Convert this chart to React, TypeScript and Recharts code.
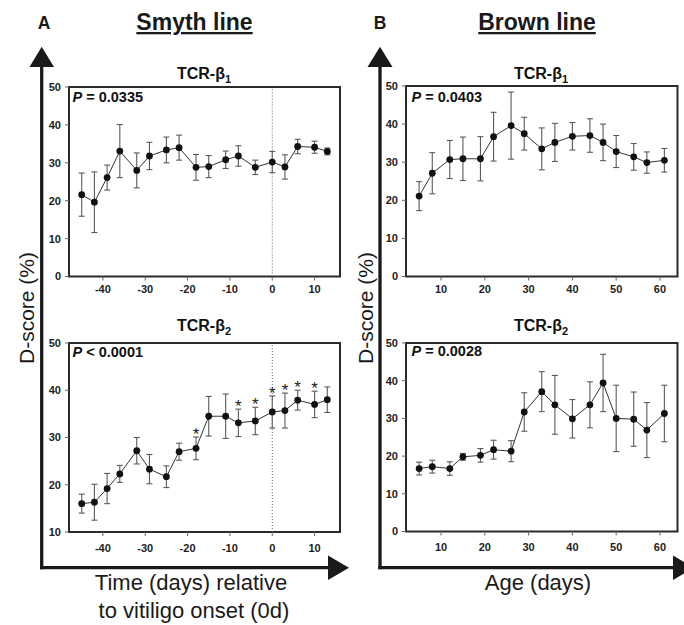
import React from 'react';
import {
  ComposedChart, Line, XAxis, YAxis, ErrorBar, ReferenceArea, ReferenceLine, Scatter,
} from 'recharts';

// ---- Data ----
const smythDays = [-45, -42, -39, -36, -32, -29, -25, -22, -18, -15, -11, -8, -4, 0, 3, 6, 10, 13];
const smythB1 = [21.6, 19.6, 26.1, 33.1, 28.0, 31.8, 33.4, 34.0, 28.8, 29.0, 30.8, 31.8, 28.8, 30.2, 28.9, 34.3, 34.1, 33.0];
const smythB1Err = [5.7, 8.0, 3.3, 7.0, 4.6, 3.6, 3.4, 3.3, 3.4, 2.9, 2.3, 2.7, 1.9, 2.8, 3.2, 1.9, 1.6, 0.9];
const smythB2 = [16.0, 16.3, 19.2, 22.3, 27.2, 23.3, 21.7, 27.0, 27.7, 34.5, 34.5, 33.1, 33.5, 35.4, 35.7, 37.9, 37.0, 38.0];
const smythB2Err = [2.0, 3.8, 3.2, 1.8, 2.8, 3.1, 2.3, 1.8, 2.4, 4.2, 4.7, 2.9, 2.9, 3.4, 3.7, 2.1, 2.8, 2.7];
const smythB2Sig = [false, false, false, false, false, false, false, false, true, false, false, true, true, true, true, true, true, false];

const brownAge = [5, 8, 12, 15, 19, 22, 26, 29, 33, 36, 40, 44, 47, 50, 54, 57, 61];
const brownB1 = [21.1, 27.1, 30.7, 30.9, 30.9, 36.7, 39.6, 37.5, 33.5, 35.2, 36.8, 37.0, 35.2, 32.8, 31.4, 29.9, 30.5];
const brownB1Err = [3.8, 5.4, 5.0, 5.7, 5.8, 6.4, 8.8, 4.3, 5.5, 5.0, 3.6, 4.4, 4.8, 4.2, 3.5, 2.8, 3.1];
const brownB2 = [16.7, 17.2, 16.7, 19.8, 20.2, 21.7, 21.3, 31.7, 37.1, 33.6, 29.9, 33.6, 39.4, 30.0, 29.8, 26.9, 31.3];
const brownB2Err = [1.7, 1.7, 1.8, 0.9, 1.8, 2.5, 2.8, 5.1, 5.3, 7.8, 5.1, 6.1, 7.6, 8.8, 7.2, 7.3, 7.5];

const smythXTicks = [-40, -30, -20, -10, 0, 10];
const brownXTicks = [10, 20, 30, 40, 50, 60];
const yTicks0 = [0, 10, 20, 30, 40, 50];
const yTicks10 = [10, 20, 30, 40, 50];

const FONT = '"Liberation Sans", Arial, Helvetica, sans-serif';

function build(xs: number[], ys: number[], errs: number[]) {
  return xs.map((x, i) => ({ x, y: ys[i], err: errs[i] }));
}
function buildStars(xs: number[], ys: number[], errs: number[], sig: boolean[]) {
  return xs.map((x, i) => ({ x, starY: ys[i] + errs[i] })).filter((_, i) => sig[i]);
}

type PanelProps = {
  l: number; t: number; r: number; b: number;
  data: { x: number; y: number; err: number }[];
  xDomain: [number, number];
  yDomain: [number, number];
  xTicks: number[];
  yTicks: number[];
  xTickMargin: number;
  zeroLine?: boolean;
  stars?: { x: number; starY: number }[];
};

const tickStyle = { fontSize: 11, fontWeight: 700, fill: '#222', fontFamily: FONT };

const StarShape = (p: any) => (
  <text x={p.cx} y={p.cy + 3} textAnchor="middle" fontSize={17} fontFamily={FONT} fill="#222">*</text>
);

function Panel({ l, t, r, b, data, xDomain, yDomain, xTicks, yTicks, xTickMargin, zeroLine, stars }: PanelProps) {
  const mLeft = 10, yW = 60, mTop = 20, xH = 30, mRight = 10;
  const width = (r - l) + mLeft + yW + mRight;
  const height = (b - t) + mTop + xH;
  return (
    <div style={{ position: 'absolute', left: l - mLeft - yW, top: t - mTop, width, height }}>
      <ComposedChart width={width} height={height} data={data}
        margin={{ top: mTop, left: mLeft, right: mRight, bottom: 0 }}>
        <XAxis type="number" dataKey="x" domain={xDomain} ticks={xTicks} interval={0}
          allowDataOverflow height={xH} axisLine={false}
          tickLine={{ stroke: '#666' }} tickSize={4} tickMargin={xTickMargin} tick={tickStyle} />
        <YAxis type="number" domain={yDomain} ticks={yTicks} interval={0}
          allowDataOverflow width={yW} axisLine={false}
          tickLine={{ stroke: '#666' }} tickSize={4} tickMargin={4} tick={tickStyle} />
        {zeroLine && (
          <ReferenceLine x={0} stroke="#666" strokeDasharray="1 2" strokeWidth={1} />
        )}
        <Line dataKey="y" stroke="#333" strokeWidth={1} isAnimationActive={false}
          dot={{ r: 3.4, fill: '#111', stroke: '#111', strokeWidth: 0 }} activeDot={false}>
          <ErrorBar dataKey="err" direction="y" width={3} stroke="#5a5a5a" strokeWidth={1.1} />
        </Line>
        {stars && (
          <Scatter data={stars} dataKey="starY" isAnimationActive={false} shape={StarShape} />
        )}
        <ReferenceArea x1={xDomain[0]} x2={xDomain[1]} y1={yDomain[0]} y2={yDomain[1]}
          fill="none" fillOpacity={0} stroke="#2a2a2a" strokeWidth={2} ifOverflow="visible" />
      </ComposedChart>
    </div>
  );
}

function Title({ x, y, sub }: { x: number; y: number; sub: string }) {
  return (
    <text x={x} y={y} textAnchor="middle" fontSize={16} fontWeight={700} fontFamily={FONT} fill="#111">
      TCR-β<tspan fontSize={11} dy={4}>{sub}</tspan>
    </text>
  );
}

function PText({ x, y, op, val }: { x: number; y: number; op: string; val: string }) {
  return (
    <text x={x} y={y} fontSize={14.5} fontWeight={700} fontFamily={FONT} fill="#111">
      <tspan fontStyle="italic">P</tspan>{` ${op} ${val}`}
    </text>
  );
}

export default function App() {
  const a1 = build(smythDays, smythB1, smythB1Err);
  const a2 = build(smythDays, smythB2, smythB2Err);
  const b1 = build(brownAge, brownB1, brownB1Err);
  const b2 = build(brownAge, brownB2, brownB2Err);
  const a2Stars = buildStars(smythDays, smythB2, smythB2Err, smythB2Sig);
  const ink = '#1a1a1a';
  return (
    <div style={{ position: 'absolute', left: 0, top: 0, width: 684, height: 625, overflow: 'hidden', background: '#fff', fontFamily: FONT }}>
      <Panel l={68.5} t={86.5} r={339.5} b={276} data={a1} xDomain={[-48, 16]} yDomain={[0, 50]}
        xTicks={smythXTicks} yTicks={yTicks0} xTickMargin={5} zeroLine />
      <Panel l={68.5} t={342.5} r={339.5} b={531.5} data={a2} xDomain={[-48, 16]} yDomain={[10, 50]}
        xTicks={smythXTicks} yTicks={yTicks10} xTickMargin={8} zeroLine stars={a2Stars} />
      <Panel l={405.5} t={86} r={677} b={276.5} data={b1} xDomain={[2, 64]} yDomain={[0, 50]}
        xTicks={brownXTicks} yTicks={yTicks0} xTickMargin={5} />
      <Panel l={405.5} t={342.5} r={677} b={531} data={b2} xDomain={[2, 64]} yDomain={[0, 50]}
        xTicks={brownXTicks} yTicks={yTicks0} xTickMargin={8} />
      <svg width={684} height={625} style={{ position: 'absolute', left: 0, top: 0, pointerEvents: 'none' }}>
        {/* Panel letters and headings */}
        <text x={44} y={29} textAnchor="middle" fontSize={17.5} fontWeight={700} fontFamily={FONT} fill={ink}>A</text>
        <text x={380} y={29} textAnchor="middle" fontSize={17.5} fontWeight={700} fontFamily={FONT} fill={ink}>B</text>
        <text x={194.5} y={30} textAnchor="middle" fontSize={23} fontWeight={700} fontFamily={FONT} fill={ink} textDecoration="underline">Smyth line</text>
        <text x={537} y={30} textAnchor="middle" fontSize={23} fontWeight={700} fontFamily={FONT} fill={ink} textDecoration="underline">Brown line</text>

        {/* Big arrows A */}
        <line x1={41.7} y1={64} x2={41.7} y2={569.3} stroke={ink} strokeWidth={3.3} />
        <line x1={40} y1={567.7} x2={330} y2={567.7} stroke={ink} strokeWidth={3.3} />
        <polygon points="41.7,46.7 29.5,67 54,67" fill={ink} />
        <polygon points="328,555.5 349,567.7 328,580" fill={ink} />
        {/* Big arrows B */}
        <line x1={380} y1={64} x2={380} y2={569.3} stroke={ink} strokeWidth={3.3} />
        <line x1={378.3} y1={567.7} x2={675} y2={567.7} stroke={ink} strokeWidth={3.3} />
        <polygon points="380,46.7 367.5,67 392.5,67" fill={ink} />
        <polygon points="673,555.5 694,567.7 673,580" fill={ink} />

        {/* Sub titles */}
        <Title x={204} y={79} sub="1" />
        <Title x={204} y={331} sub="2" />
        <Title x={541} y={79} sub="1" />
        <Title x={541} y={331} sub="2" />

        <PText x={72.5} y={101.5} op="=" val="0.0335" />
        <PText x={72.5} y={356.5} op="<" val="0.0001" />
        <PText x={411.5} y={101.5} op="=" val="0.0403" />
        <PText x={411.5} y={356} op="=" val="0.0028" />

        {/* Axis titles */}
        <text transform="translate(34,308) rotate(-90)" textAnchor="middle" fontSize={21} fontFamily={FONT} fill={ink}>D-score (%)</text>
        <text transform="translate(372.5,308) rotate(-90)" textAnchor="middle" fontSize={21} fontFamily={FONT} fill={ink}>D-score (%)</text>
        <text x={191} y={590} textAnchor="middle" fontSize={22} fontFamily={FONT} fill={ink}>Time (days) relative</text>
        <text x={194} y={618} textAnchor="middle" fontSize={22} fontFamily={FONT} fill={ink}>to vitiligo onset (0d)</text>
        <text x={538} y={590} textAnchor="middle" fontSize={22} fontFamily={FONT} fill={ink}>Age (days)</text>
      </svg>
    </div>
  );
}
